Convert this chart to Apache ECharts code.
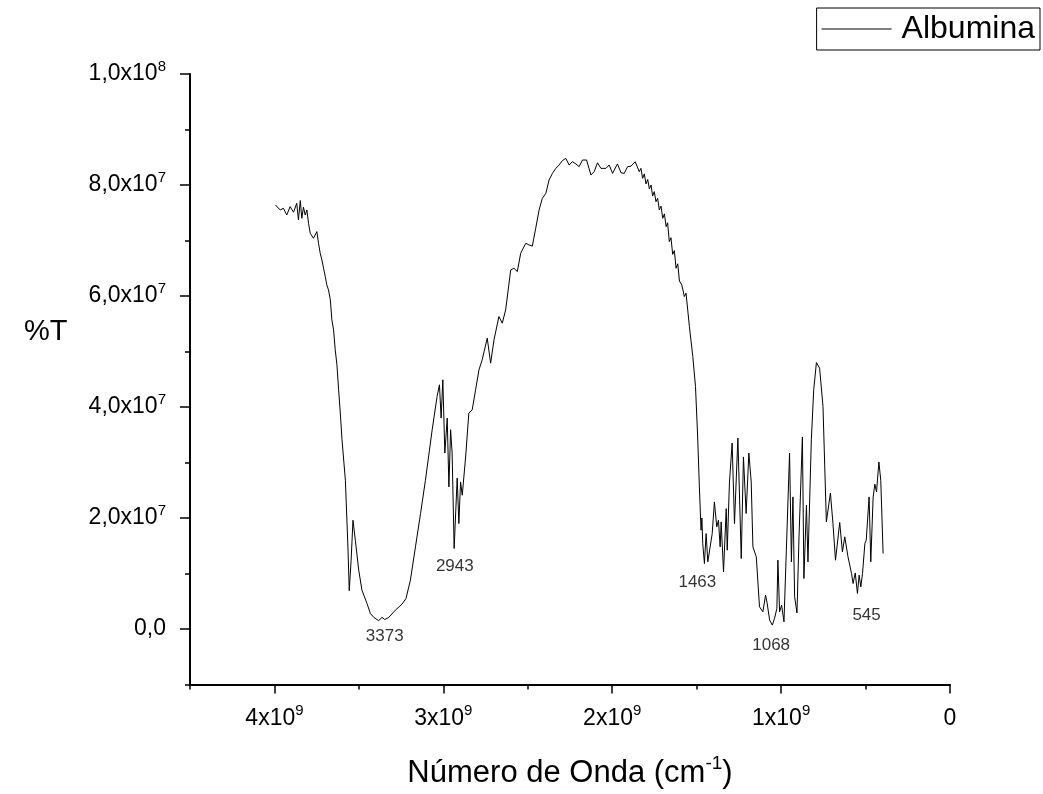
<!DOCTYPE html>
<html>
<head>
<meta charset="utf-8">
<script src="https://cdn.jsdelivr.net/npm/echarts@6/dist/echarts.min.js"></script>
<style>
  html, body { margin: 0; padding: 0; background: #fff; }
  #chart { width: 1043px; height: 794px; }
</style>
</head>
<body>
<div id="chart"></div>
<script>
// wave number as plotted on the axis is cm-1 x 1e6, %T in units of 1e7
var WAVE_UNIT = 1e6
var T_UNIT = 1e7

var waveNumber = [
  3994, 3966, 3947, 3927, 3907, 3887, 3868, 3858, 3847, 3838,
  3828, 3818, 3808, 3798, 3788, 3769, 3749, 3739, 3729, 3719,
  3709, 3699, 3690, 3680, 3669, 3660, 3650, 3640, 3630, 3620,
  3610, 3600, 3580, 3565, 3557, 3546, 3535, 3521, 3501, 3482,
  3452, 3432, 3412, 3383, 3363, 3347, 3323, 3284, 3244, 3221,
  3195, 3165, 3135, 3106, 3066, 3037, 3023, 3013, 3003, 2991,
  2977, 2967, 2957, 2948, 2936, 2918, 2908, 2898, 2888, 2868,
  2849, 2829, 2809, 2789, 2770, 2740, 2720, 2700, 2671, 2651,
  2631, 2601, 2582, 2562, 2542, 2512, 2493, 2473, 2453, 2433,
  2414, 2393, 2374, 2354, 2334, 2315, 2295, 2275, 2255, 2236,
  2215, 2196, 2176, 2152, 2126, 2107, 2087, 2067, 2037, 2018,
  1998, 1969, 1948, 1929, 1909, 1889, 1864, 1840, 1830, 1820,
  1810, 1800, 1790, 1780, 1770, 1761, 1751, 1741, 1731, 1721,
  1711, 1701, 1691, 1681, 1672, 1662, 1652, 1642, 1632, 1622,
  1612, 1602, 1588, 1573, 1563, 1553, 1543, 1523, 1507, 1494,
  1484, 1474, 1469, 1464,
  1454, 1444, 1434, 1424, 1408, 1395, 1381, 1371, 1361, 1355,
  1341, 1325, 1319, 1306, 1290, 1276, 1256, 1236, 1223, 1207,
  1191, 1177, 1167, 1157, 1147, 1128, 1108, 1092, 1083, 1068,
  1052, 1039, 1025, 1019, 1009, 997, 983, 969, 950, 939,
  930, 920, 906, 894, 874, 865, 850, 841, 821, 807,
  791, 772, 752, 732, 708, 693, 678, 653, 637, 623,
  604, 583, 574, 561, 548, 538, 528, 518, 504, 496,
  479, 469, 455, 445, 435, 421, 410, 396
]

var transmittance = [
  7.64, 7.55, 7.58, 7.46, 7.61, 7.51, 7.67, 7.37, 7.72, 7.40,
  7.60, 7.46, 7.55, 7.31, 7.13, 7.04, 7.16, 6.95, 6.77, 6.65,
  6.50, 6.35, 6.20, 6.11, 5.93, 5.57, 5.39, 5.03, 4.76, 4.31,
  3.89, 3.41, 2.68, 1.48, 0.69, 1.24, 1.96, 1.60, 1.06, 0.70,
  0.46, 0.28, 0.21, 0.15, 0.21, 0.17, 0.21, 0.34, 0.45, 0.55,
  0.88, 1.48, 2.08, 2.68, 3.59, 4.19, 4.40, 3.80, 4.49, 3.17,
  3.80, 2.56, 3.59, 3.17, 1.45, 2.72, 1.90, 2.65, 2.41, 3.10,
  3.89, 3.95, 4.31, 4.67, 4.85, 5.24, 4.79, 5.21, 5.63, 5.51,
  5.75, 6.47, 6.50, 6.44, 6.77, 6.95, 6.92, 6.90, 7.22, 7.55,
  7.76, 7.85, 8.09, 8.21, 8.30, 8.36, 8.44, 8.48, 8.36, 8.42,
  8.38, 8.33, 8.45, 8.45, 8.18, 8.24, 8.40, 8.30, 8.30, 8.36,
  8.21, 8.38, 8.22, 8.21, 8.33, 8.34, 8.42, 8.24, 8.30, 8.12,
  8.20, 8.02, 8.10, 7.93, 8.00, 7.80, 7.88, 7.70, 7.76, 7.55,
  7.62, 7.40, 7.48, 7.25, 7.32, 6.98, 7.05, 6.75, 6.82, 6.50,
  6.58, 6.27, 6.20, 5.99, 6.05, 5.75, 5.45, 4.91, 4.37, 3.46,
  2.56, 1.78, 2.00, 1.54,
  1.18, 1.72, 1.21, 1.18, 1.72, 2.29, 1.84, 1.96, 1.48, 1.93,
  1.03, 2.17, 1.42, 2.63, 3.35, 1.90, 3.44, 1.27, 3.10, 2.08,
  3.17, 2.65, 1.48, 1.50, 1.30, 0.40, 0.31, 0.61, 0.47, 0.16,
  0.07, 0.19, 0.37, 1.24, 0.31, 0.43, 0.13, 1.42, 3.17, 1.21,
  2.38, 0.58, 0.29, 1.66, 3.46, 0.91, 2.23, 1.21, 3.41, 4.31,
  4.80, 4.70, 4.01, 1.93, 2.45, 1.90, 1.24, 1.92, 1.39, 1.66,
  1.30, 1.00, 0.82, 1.01, 0.64, 0.97, 0.76, 1.00, 1.54, 1.60,
  2.38, 1.21, 2.38, 2.61, 2.47, 3.01, 2.68, 1.36
]

// peak annotations: label text and where the text sits (cm-1, %T in 1e7)
var peakText = ['3373', '2943', '1463', '1068', '545']
var peakWave = [3347, 2932, 1496, 1059, 494]
var peakT = [-0.126, 1.135, 0.85, -0.29, 0.25]

var xMajor = [0, 1e9, 2e9, 3e9, 4e9]
var yMajor = [0, 2e7, 4e7, 6e7, 8e7, 1e8]

var FONT = 'Arial, "Liberation Sans", sans-serif'

var lineData = waveNumber.map(function (w, i) {
  return [w * WAVE_UNIT, transmittance[i] * T_UNIT]
})
var peakData = peakText.map(function (t, i) {
  return { value: [peakWave[i] * WAVE_UNIT, peakT[i] * T_UNIT], name: t }
})

var supRich = {
  b: { fontSize: 23, fontFamily: FONT, color: '#000', lineHeight: 30 },
  s: { fontSize: 15, fontFamily: FONT, color: '#000', verticalAlign: 'top', lineHeight: 15 }
}

function xLabel(v) {
  if (v === 0) return '{b|0}'
  var e = Math.floor(Math.log10(v) + 1e-9)
  var m = Math.round(v / Math.pow(10, e))
  return '{b|' + m + 'x10}{s|' + e + '}'
}

function yLabel(v) {
  if (v === 0) return '{b|0,0}'
  var e = Math.floor(Math.log10(Math.abs(v)) + 1e-9)
  var m = v / Math.pow(10, e)
  return '{b|' + m.toFixed(1).replace('.', ',') + 'x10}{s|' + e + '}'
}

var chart = echarts.init(document.getElementById('chart'), null, { renderer: 'canvas' })

var option = {
  backgroundColor: '#fff',
  animation: false,
  textStyle: { fontFamily: FONT },
  title: {
    text: '%T',
    left: 24,
    top: 317,
    padding: 0,
    textStyle: { fontSize: 29, fontWeight: 'normal', color: '#000', fontFamily: FONT }
  },
  grid: { left: 190, top: 74, width: 760, height: 611, containLabel: false },
  legend: {
    right: 3,
    top: 8,
    padding: [5, 5, 5, 5],
    borderColor: '#000',
    borderWidth: 1,
    borderRadius: 0,
    itemWidth: 70,
    itemHeight: 1,
    textStyle: { fontSize: 32, color: '#000', fontFamily: FONT, padding: [0, 0, 0, 5] },
    data: [{ name: 'Albumina', icon: 'rect' }]
  },
  xAxis: [{
    type: 'value',
    min: 0,
    max: 4.5e9,
    inverse: true,
    name: '{b|Número de Onda (cm}{s|-1}{b|)}',
    nameLocation: 'middle',
    nameGap: 70,
    nameTextStyle: {
      rich: {
        b: { fontSize: 31, fontFamily: FONT, color: '#000', lineHeight: 38 },
        s: { fontSize: 19, fontFamily: FONT, color: '#000', verticalAlign: 'top', lineHeight: 19 }
      }
    },
    splitLine: { show: false },
    axisLine: { show: true, onZero: false, lineStyle: { color: '#000', width: 2 } },
    axisTick: { show: true, customValues: xMajor, length: 9, lineStyle: { color: '#000', width: 1.5 } },
    axisLabel: { customValues: xMajor, formatter: xLabel, margin: 19, rich: supRich }
  }, {
    // minor ticks
    type: 'value',
    gridIndex: 0,
    position: 'bottom',
    min: 0,
    max: 4.5e9,
    interval: 5e8,
    inverse: true,
    splitLine: { show: false },
    axisLine: { show: false, onZero: false },
    axisTick: { show: true, length: 5, lineStyle: { color: '#000', width: 1.5 } },
    axisLabel: { show: false }
  }],
  yAxis: [{
    type: 'value',
    min: -1e7,
    max: 1e8,
    splitLine: { show: false },
    axisLine: { show: true, onZero: false, lineStyle: { color: '#000', width: 2 } },
    axisTick: { show: true, customValues: yMajor, length: 10, lineStyle: { color: '#000', width: 1.5 } },
    axisLabel: { customValues: yMajor, formatter: yLabel, margin: 24, rich: supRich }
  }, {
    // minor ticks
    type: 'value',
    position: 'left',
    min: -1e7,
    max: 1e8,
    interval: 1e7,
    splitLine: { show: false },
    axisLine: { show: false, onZero: false },
    axisTick: { show: true, length: 5, lineStyle: { color: '#000', width: 1.5 } },
    axisLabel: { show: false }
  }],
  series: [{
    name: 'Albumina',
    type: 'line',
    data: lineData,
    showSymbol: false,
    symbol: 'none',
    color: '#000',
    lineStyle: { color: '#000', width: 1 },
    silent: true
  }, {
    name: 'peaks',
    type: 'scatter',
    data: peakData,
    symbolSize: 0,
    silent: true,
    label: {
      show: true,
      position: 'inside',
      formatter: function (p) { return p.name },
      fontSize: 17,
      fontFamily: FONT,
      color: '#000'
    }
  }]
}

chart.setOption(option)
</script>
</body>
</html>
